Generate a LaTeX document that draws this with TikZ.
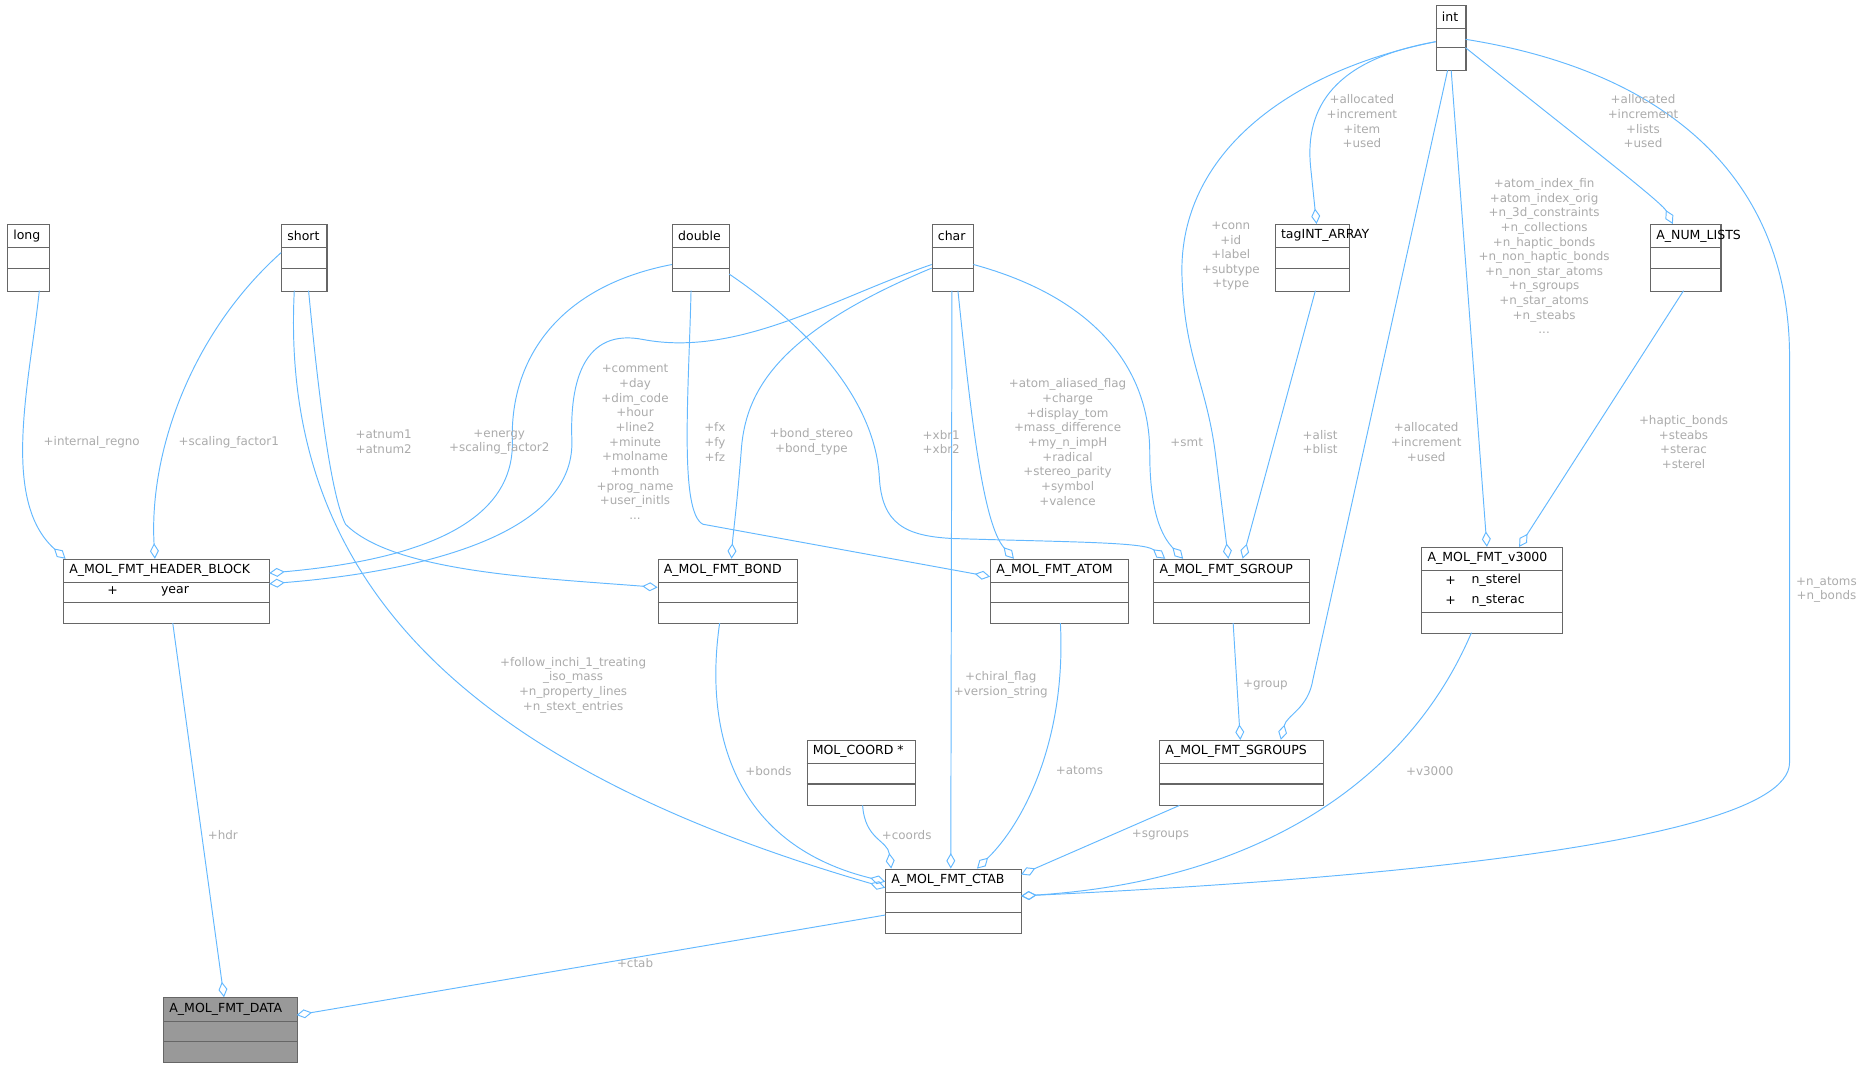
\documentclass[tikz,border=0pt]{standalone}
\usepackage{fontspec}
\setmainfont{DejaVu Sans}
\usetikzlibrary{arrows.meta}
\definecolor{edgec}{HTML}{63B8FF}
\definecolor{lblc}{HTML}{ABABAB}
\definecolor{boxc}{HTML}{666666}
\tikzset{
 box/.style={draw=boxc,line width=0.9pt,inner sep=0,fill=white},
 ttl/.style={font=\fontsize{10.5}{12}\selectfont,inner sep=0,anchor=west},
 lbl/.style={font=\fontsize{10}{12.3}\selectfont,text=lblc,align=center,inner sep=0},
 edge/.style={draw=edgec,line width=0.8pt,-{Diamond[open,length=13pt,width=7.5pt,line width=0.8pt]}},
}
\newcommand\umlcls[7]{%
 \node[box,fill=#7,minimum width=#4pt,minimum height=#5pt,anchor=north west] (#1) at (#2,#3) {};
 \node[ttl] (#1t) at ([shift={(5,10)}]#1.north west) {#6};
 \draw[boxc,line width=0.9pt] ([shift={(0,20)}]#1.north west) -- ([shift={(0,20)}]#1.north east);
}
\begin{document}
\begin{tikzpicture}[x=1pt,y=-1pt]
\useasboundingbox (0,0) rectangle (1567,895.5);
% classes
\umlcls{int}{1205}{4}{25}{55}{int}{white}
\draw[boxc,line width=0.9pt] ([shift={(0,36)}]int.north west) -- ([shift={(0,36)}]int.north east);
\umlcls{long}{6}{188}{35}{56}{long}{white}
\umlcls{short}{236}{188}{38}{56}{short}{white}
\umlcls{double}{564}{188}{48}{56}{double}{white}
\umlcls{char}{782}{188}{35}{56}{char}{white}
\umlcls{tag}{1070}{188}{62}{56}{tagINT\_ARRAY}{white}
\umlcls{num}{1385}{188}{59}{56}{A\_NUM\_LISTS}{white}
\foreach \n in {long,short,double,char,tag,num}
 \draw[boxc,line width=0.9pt] ([shift={(0,37)}]\n.north west) -- ([shift={(0,37)}]\n.north east);
\umlcls{hb}{53}{469}{173}{54}{A\_MOL\_FMT\_HEADER\_BLOCK}{white}
\umlcls{bond}{552}{469}{117}{54}{A\_MOL\_FMT\_BOND}{white}
\umlcls{atom}{831}{469}{116}{54}{A\_MOL\_FMT\_ATOM}{white}
\umlcls{sg}{968}{469}{131}{54}{A\_MOL\_FMT\_SGROUP}{white}
\umlcls{v3}{1193}{459}{118}{72}{A\_MOL\_FMT\_v3000}{white}
\umlcls{coord}{677}{621}{91}{55}{MOL\_COORD *}{white}
\umlcls{sgs}{973}{621}{137}{55}{A\_MOL\_FMT\_SGROUPS}{white}
\umlcls{ctab}{743}{729}{114}{54}{A\_MOL\_FMT\_CTAB}{white}
\umlcls{data}{137}{837}{112}{54}{A\_MOL\_FMT\_DATA}{black!40}
\foreach \n in {hb,bond,atom,sg,coord,sgs,ctab,data}
 \draw[boxc,line width=0.9pt] ([shift={(0,37)}]\n.north west) -- ([shift={(0,37)}]\n.north east);
\draw[boxc,line width=0.9pt] ([shift={(0,55)}]v3.north west) -- ([shift={(0,55)}]v3.north east);
\node[ttl] (hbp) at ([shift={(37,27)}]hb.north west) {+};
\node[ttl] (hby) at ([shift={(82,27)}]hb.north west) {year};
\node[ttl] (v3p1) at ([shift={(20,28)}]v3.north west) {+};
\node[ttl] (v3a) at ([shift={(42,28)}]v3.north west) {n\_sterel};
\node[ttl] (v3p2) at ([shift={(20,45)}]v3.north west) {+};
\node[ttl] (v3b) at ([shift={(42,45)}]v3.north west) {n\_sterac};
% edges
\draw[edge] ([shift={(27,56)}]long.north west) .. controls (25,320) and (0,420) .. ([shift={(2,0)}]hb.north west);
\draw[edge] ([shift={(0,24)}]short.north west) .. controls (160,280) and (125,380) .. ([shift={(77,0)}]hb.north west);
\draw[edge] ([shift={(23,56)}]short.north west) .. controls (270,360) and (280,420) .. (290,440) .. controls (330,480) and (450,485) .. ([shift={(0,24)}]bond.north west);
\draw[edge] ([shift={(11,56)}]short.north west) .. controls (235,480) and (380,640) .. ([shift={(0,16)}]ctab.north west);
\draw[edge] ([shift={(0,34)}]double.north west) .. controls (470,240) and (428,300) .. (430,370) .. controls (432,440) and (350,470) .. ([shift={(173,12)}]hb.north west);
\draw[edge] ([shift={(0,34)}]char.north west) .. controls (700,250) and (620,300) .. (540,285) .. controls (490,275) and (478,320) .. (480,370) .. controls (482,450) and (350,480) .. ([shift={(173,21)}]hb.north west);
\draw[edge] ([shift={(16,56)}]double.north west) .. controls (578,330) and (570,430) .. (590,440) -- ([shift={(0,15)}]atom.north west);
\draw[edge] ([shift={(0,37)}]char.north west) .. controls (650,280) and (625,330) .. (622,380) .. controls (618,430) and (615,450) .. ([shift={(62,0)}]bond.north west);
\draw[edge] ([shift={(48,42)}]double.north west) .. controls (700,290) and (735,350) .. (738,400) .. controls (740,440) and (760,450) .. (800,452) .. controls (900,455) and (960,455) .. ([shift={(10,0)}]sg.north west);
\draw[edge] ([shift={(22,56)}]char.north west) .. controls (815,350) and (825,440) .. ([shift={(20,0)}]atom.north west);
\draw[edge] ([shift={(17,56)}]char.north west) -- ([shift={(55,0)}]ctab.north west);
\draw[edge] ([shift={(35,34)}]char.north west) .. controls (920,250) and (965,310) .. (965,380) .. controls (965,430) and (975,450) .. ([shift={(25,0)}]sg.north west);
\draw[edge] ([shift={(0,31)}]int.north west) .. controls (1080,60) and (990,130) .. (992,230) .. controls (994,300) and (1012,320) .. (1020,380) -- ([shift={(63,0)}]sg.north west);
\draw[edge] ([shift={(0,31)}]int.north west) .. controls (1120,50) and (1095,90) .. (1100,140) -- ([shift={(35,0)}]tag.north west);
\draw[edge] ([shift={(34,56)}]tag.north west) -- ([shift={(75,0)}]sg.north west);
\draw[edge] ([shift={(10,55)}]int.north west) -- (1102,570) .. controls (1098,595) and (1080,600) .. ([shift={(102,0)}]sgs.north west);
\draw[edge] ([shift={(13,55)}]int.north west) -- ([shift={(55,0)}]v3.north west);
\draw[edge] ([shift={(25,36)}]int.north west) .. controls (1330,120) and (1395,170) .. ([shift={(19,0)}]num.north west);
\draw[edge] ([shift={(28,56)}]num.north west) -- ([shift={(82,0)}]v3.north west);
\draw[edge] ([shift={(25,29)}]int.north west) .. controls (1400,60) and (1502,150) .. (1502,300) -- (1502,640) .. controls (1502,720) and (1000,745) .. ([shift={(114,23)}]ctab.north west);
\draw[edge] ([shift={(67,54)}]sg.north west) -- ([shift={(68,0)}]sgs.north west);
\draw[edge] ([shift={(92,54)}]hb.north west) -- ([shift={(51,0)}]data.north west);
\draw[edge] ([shift={(0,39)}]ctab.north west) -- ([shift={(112,15)}]data.north west);
\draw[edge] ([shift={(52,54)}]bond.north west) .. controls (590,620) and (620,710) .. ([shift={(0,11)}]ctab.north west);
\draw[edge] ([shift={(47,55)}]coord.north west) .. controls (726,705) and (745,705) .. ([shift={(5,0)}]ctab.north west);
\draw[edge] ([shift={(59,54)}]atom.north west) .. controls (895,620) and (860,690) .. ([shift={(77,0)}]ctab.north west);
\draw[edge] ([shift={(17,55)}]sgs.north west) -- ([shift={(114,5)}]ctab.north west);
\draw[edge] ([shift={(42,72)}]v3.north west) .. controls (1180,660) and (1050,740) .. ([shift={(114,23)}]ctab.north west);
% labels
\node[lbl] (l1) at (77,371) {+internal\_regno};
\node[lbl] (l2) at (192,371) {+scaling\_factor1};
\node[lbl] (l3) at (322,371) {+atnum1\\+atnum2};
\node[lbl] (l4) at (481,575) {+follow\_inchi\_1\_treating\\\_iso\_mass\\+n\_property\_lines\\+n\_stext\_entries};
\node[lbl] (l5) at (419,371) {+energy\\+scaling\_factor2};
\node[lbl] (l6) at (533,371) {+comment\\+day\\+dim\_code\\+hour\\+line2\\+minute\\+molname\\+month\\+prog\_name\\+user\_initls\\...};
\node[lbl] (l7) at (600,371) {+fx\\+fy\\+fz};
\node[lbl] (l8) at (681,371) {+bond\_stereo\\+bond\_type};
\node[lbl] (l9) at (790,371) {+xbr1\\+xbr2};
\node[lbl] (l10) at (896,371) {+atom\_aliased\_flag\\+charge\\+display\_tom\\+mass\_difference\\+my\_n\_impH\\+radical\\+stereo\_parity\\+symbol\\+valence};
\node[lbl] (l11) at (840,575) {+chiral\_flag\\+version\_string};
\node[lbl] (l12) at (996,371) {+smt};
\node[lbl] (l13) at (1033,215) {+conn\\+id\\+label\\+subtype\\+type};
\node[lbl] (l14) at (1143,102) {+allocated\\+increment\\+item\\+used};
\node[lbl] (l15) at (1108,371) {+alist\\+blist};
\node[lbl] (l16) at (1197,371) {+allocated\\+increment\\+used};
\node[lbl] (l17) at (1296,215) {+atom\_index\_fin\\+atom\_index\_orig\\+n\_3d\_constraints\\+n\_collections\\+n\_haptic\_bonds\\+n\_non\_haptic\_bonds\\+n\_non\_star\_atoms\\+n\_sgroups\\+n\_star\_atoms\\+n\_steabs\\...};
\node[lbl] (l18) at (1379,102) {+allocated\\+increment\\+lists\\+used};
\node[lbl] (l19) at (1413,371) {+haptic\_bonds\\+steabs\\+sterac\\+sterel};
\node[lbl] (l20) at (1533,495) {+n\_atoms\\+n\_bonds};
\node[lbl] (l21) at (1062,575) {+group};
\node[lbl] (l22) at (187,701) {+hdr};
\node[lbl] (l23) at (533,808) {+ctab};
\node[lbl] (l24) at (645,647) {+bonds};
\node[lbl] (l25) at (761,701) {+coords};
\node[lbl] (l26) at (906,647) {+atoms};
\node[lbl] (l27) at (974,701) {+sgroups};
\node[lbl] (l28) at (1200,647) {+v3000};
\end{tikzpicture}
\end{document}
